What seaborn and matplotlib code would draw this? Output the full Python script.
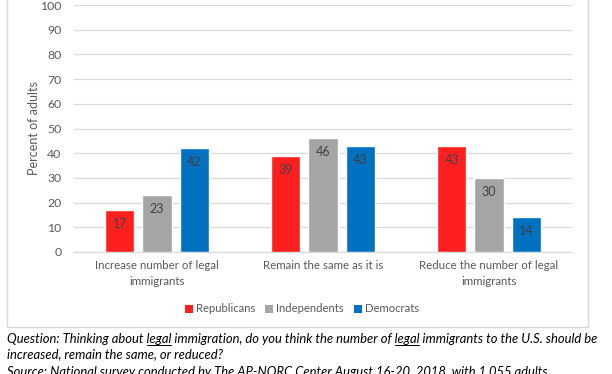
import matplotlib
matplotlib.use("Agg")
import matplotlib.pyplot as plt
import seaborn as sns
import pandas as pd
from matplotlib.patches import Rectangle
from matplotlib.lines import Line2D

categories = ["Increase number of legal\nimmigrants",
              "Remain the same as it is",
              "Reduce the number of legal\nimmigrants"]
parties = ["Republicans", "Independents", "Democrats"]
republicans = [17, 39, 43]
independents = [23, 46, 30]
democrats = [42, 43, 14]
colors = ["#FF1F1F", "#A5A5A5", "#0070C0"]
yticks = [0, 10, 20, 30, 40, 50, 60, 70, 80, 90, 100]

rows = []
for party, vals in zip(parties, [republicans, independents, democrats]):
    for c, v in zip(categories, vals):
        rows.append({"category": c, "party": party, "value": v})
df = pd.DataFrame(rows)

sns.set_theme(style="white")
plt.rcParams["font.family"] = ["Lato", "DejaVu Sans"]

W, H = 612, 374
fig = plt.figure(figsize=(W / 100, H / 100), dpi=100)
ax = fig.add_axes([74 / W, 1 - 252 / H, (572 - 74) / W, (252 - 5) / H])

# chart frame
fig.patches.append(Rectangle((7 / W, 1 - 327 / H), (588 - 7) / W, 327 / H + 0.05,
                             transform=fig.transFigure, fill=False,
                             edgecolor="#D9D9D9", lw=1.0, zorder=0))

sns.barplot(data=df, x="category", y="value", hue="party", order=categories,
            hue_order=parties, palette=colors, width=0.67, gap=0.216,
            saturation=1, ax=ax, legend=False, errorbar=None, zorder=3)

for cont in ax.containers:
    for bar in cont:
        h = bar.get_height()
        ax.annotate(f"{int(h)}", (bar.get_x() + bar.get_width() / 2, h),
                    xytext=(0, -10), textcoords="offset points",
                    ha="center", va="center", fontsize=9, color="#404040",
                    zorder=5)

ax.set_ylim(0, 100)
ax.set_xlim(-0.5, 2.5)
ax.set_yticks(yticks)
ax.grid(axis="y", color="#D9D9D9", lw=0.9, zorder=0)
ax.set_axisbelow(True)
for s in ["top", "right", "left"]:
    ax.spines[s].set_visible(False)
ax.spines["bottom"].set_color("#D9D9D9")
ax.spines["bottom"].set_linewidth(0.9)
ax.tick_params(axis="both", length=0, colors="#595959")
ax.tick_params(axis="y", pad=9, labelsize=8.8)
ax.tick_params(axis="x", pad=6, labelsize=8.3)
for lbl in ax.get_xticklabels():
    lbl.set_linespacing(1.5)
ax.set_xlabel("")
ax.set_ylabel("Percent of adults", color="#595959", fontsize=9, labelpad=0)

handles = [Rectangle((0, 0), 1, 1, facecolor=c, edgecolor="none") for c in colors]
fig.legend(handles, parties, loc="center", bbox_to_anchor=(302 / W, 1 - 309 / H),
           ncol=3, frameon=False, fontsize=8.1, handlelength=0.7, handleheight=0.7,
           handletextpad=0.25, columnspacing=0.9, labelcolor="#595959")

# caption
line1_parts = ["Question: Thinking about ", "legal",
               " immigration, do you think the number of ", "legal",
               " immigrants to the U.S. should be"]
line2 = "increased, remain the same, or reduced?"
line3 = "Source: National survey conducted by The AP-NORC Center August 16-20, 2018, with 1,055 adults"
cap_kw = dict(fontsize=9.4, style="italic", color="black", ha="left", va="baseline")
x0 = 7 / W
y1 = 1 - 343 / H
fig.text(x0, y1, "".join(line1_parts), **cap_kw)
fig.text(x0, 1 - 358 / H, line2, **cap_kw)
fig.text(x0, 1 - 376 / H, line3, **cap_kw)

renderer = fig.canvas.get_renderer()
def text_width(s):
    t = fig.text(0, 0, s, **cap_kw)
    w = t.get_window_extent(renderer=renderer).width
    t.remove()
    return w

prefix = ""
for i, part in enumerate(line1_parts):
    if part == "legal":
        start = text_width(prefix.rstrip()) + text_width(" ") if prefix else 0
        w = text_width(part)
        xs = x0 + start / W
        ul = Line2D([xs, xs + w / W], [y1 - 2.2 / H, y1 - 2.2 / H],
                    transform=fig.transFigure, color="black", lw=0.7)
        fig.lines.append(ul)
    prefix += part

fig.savefig("out.png", dpi=100)
